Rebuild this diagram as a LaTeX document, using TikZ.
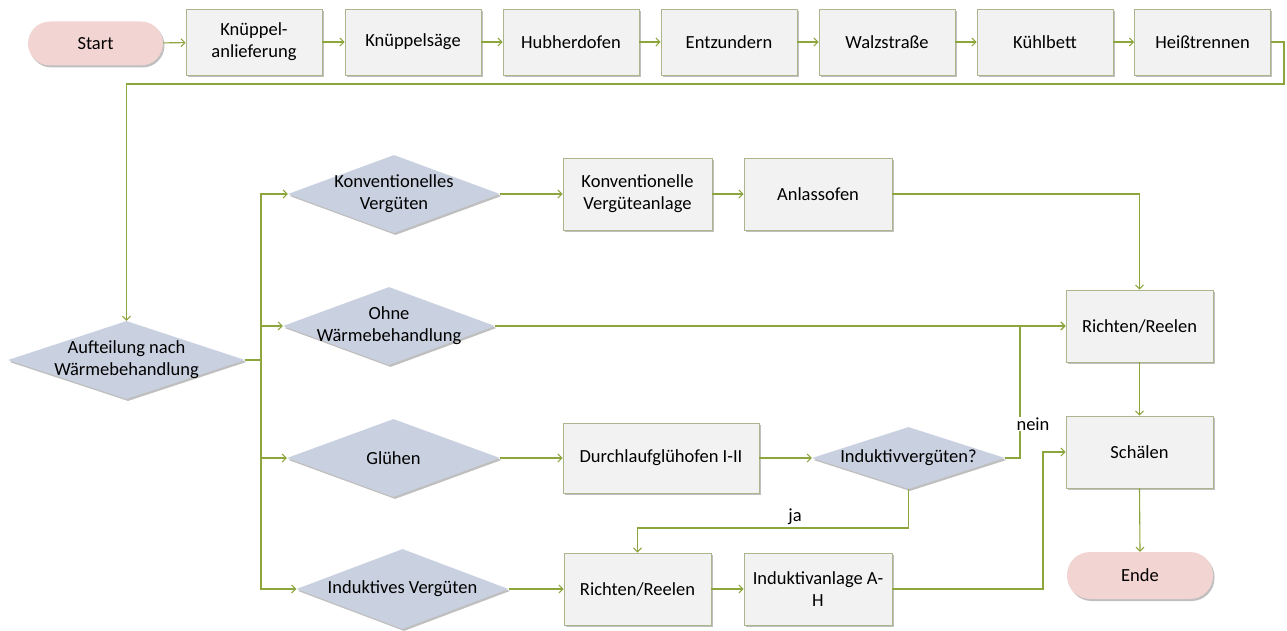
\documentclass[tikz,border=0pt]{standalone}
\usepackage{fontspec}
\setmainfont{Carlito}
\usetikzlibrary{arrows.meta,shapes.geometric,shadows}
\definecolor{conn}{RGB}{140,165,60}
\definecolor{boxfill}{RGB}{242,242,242}
\definecolor{boxdraw}{RGB}{172,182,140}
\definecolor{diafill}{RGB}{201,209,224}
\definecolor{termfill}{RGB}{242,212,210}
\tikzset{
  every node/.style={font=\fontsize{18.5}{22}\selectfont,text=black},
  shad/.style={drop shadow={shadow xshift=1.5pt,shadow yshift=-2pt,opacity=0.25,fill=black}},
  procbox/.style={shape=rectangle,draw=boxdraw,fill=boxfill,line width=0.8pt,minimum width=136pt,minimum height=66pt,align=center,inner sep=2pt,shad},
  term/.style={shape=rectangle,rounded corners=22pt,fill=termfill,draw=none,minimum width=135pt,minimum height=44pt,shad},
  dia/.style={shape=diamond,fill=diafill,draw=none,inner sep=0pt,shad},
  lbl/.style={align=center,inner sep=1pt},
  conline/.style={draw=conn,line width=1.1pt},
  arr/.style={conline,-{Straight Barb[length=4pt,width=8pt,line width=1pt]}}
}
\begin{document}
\begin{tikzpicture}[x=1pt,y=-1pt]
\useasboundingbox (0,0) rectangle (1287,631);
% top row
\node[term] (start) at (95.5,43.5) {Start};
\node[procbox] (k1) at (254,42) {Knüppel-\\anlieferung};
\node[procbox] (k2) at (413,42) {Knüppelsäge};
\node[procbox] (k3) at (571,42) {Hubherdofen};
\node[procbox] (k4) at (729,42) {Entzundern};
\node[procbox] (k5) at (887,42) {Walzstraße};
\node[procbox] (k6) at (1045,42) {Kühlbett};
\node[procbox] (k7) at (1202.5,42) {Heißtrennen};
% split diamond
\node[dia,minimum width=237pt,minimum height=78pt,label={[lbl]center:Aufteilung nach\\Wärmebehandlung}] (auf) at (126.5,360) {};
% branch diamonds
\node[dia,minimum width=212pt,minimum height=78pt,label={[lbl]center:Konventionelles\\Vergüten}] (kv) at (394,194) {};
\node[dia,minimum width=212pt,minimum height=78pt,label={[lbl]center:Ohne\\Wärmebehandlung}] (ohne) at (389,326) {};
\node[dia,minimum width=213pt,minimum height=78pt,label={[lbl]center:Glühen}] (glu) at (393.5,458) {};
\node[dia,minimum width=212pt,minimum height=80pt,label={[lbl]center:Induktives Vergüten}] (ind) at (402.5,589) {};
% process boxes
\node[procbox,minimum width=149pt,minimum height=72pt] (kva) at (637.5,194) {Konventionelle\\Vergüteanlage};
\node[procbox,minimum width=148pt,minimum height=72pt] (anl) at (818,194) {Anlassofen};
\node[procbox,minimum width=196pt,minimum height=70pt] (dlg) at (661,458) {Durchlaufglühofen I-II};
\node[dia,minimum width=193pt,minimum height=62pt,label={[lbl]center:Induktivvergüten?}] (iv) at (908.5,458) {};
\node[procbox,minimum width=147pt,minimum height=72pt] (rr2) at (637.5,589) {Richten/Reelen};
\node[procbox,minimum width=148pt,minimum height=72pt] (ia) at (818,589) {Induktivanlage A-\\H};
\node[procbox,minimum width=147pt,minimum height=72pt] (rr1) at (1139.5,326) {Richten/Reelen};
\node[procbox,minimum width=147pt,minimum height=72pt] (sch) at (1139.5,452) {Schälen};
\node[term,minimum width=146pt,minimum height=47pt,rounded corners=23pt] (ende) at (1140,575.5) {Ende};
% connectors top row
\draw[arr] (start) -- (k1);
\draw[arr] (k1) -- (k2);
\draw[arr] (k2) -- (k3);
\draw[arr] (k3) -- (k4);
\draw[arr] (k4) -- (k5);
\draw[arr] (k5) -- (k6);
\draw[arr] (k6) -- (k7);
\coordinate (c1) at (1284,84);
\draw[arr] (k7.east) -| (c1) -- (auf.north |- c1) -- (auf.north);
% split
\coordinate (bx) at (261,360);
\draw[conline] (auf.east) -- (bx);
\draw[arr] (bx) |- (kv.west);
\draw[arr] (bx) |- (ohne.west);
\draw[arr] (bx) |- (glu.west);
\draw[arr] (bx) |- (ind.west);
% branches
\draw[arr] (kv.east) -- (kva.west);
\draw[arr] (kva.east) -- (anl.west);
\draw[arr] (anl.east) -| (rr1.north);
\draw[arr] (ohne.east) -- (rr1.west);
\draw[arr] (glu.east) -- (dlg.west);
\draw[arr] (dlg.east) -- (iv.west);
\coordinate (nx) at (1020,458);
\draw[arr] (iv.east) -- (nx) |- (rr1.west);
\node[fill=white,inner sep=1pt] (nein) at (1033,424) {nein};
\coordinate (jy) at (908.5,528);
\draw[arr] (iv.south) -- (jy) -| (rr2.north);
\node[inner sep=1pt] (ja) at (795,517) {ja};
\draw[arr] (ind.east) -- (rr2.west);
\draw[arr] (rr2.east) -- (ia.west);
\coordinate (sx) at (1043,589);
\draw[arr] (ia.east) -- (sx) |- (sch.west);
\draw[arr] (rr1.south) -- (sch.north);
\draw[arr] (sch.south) -- (ende.north);
\end{tikzpicture}
\end{document}
